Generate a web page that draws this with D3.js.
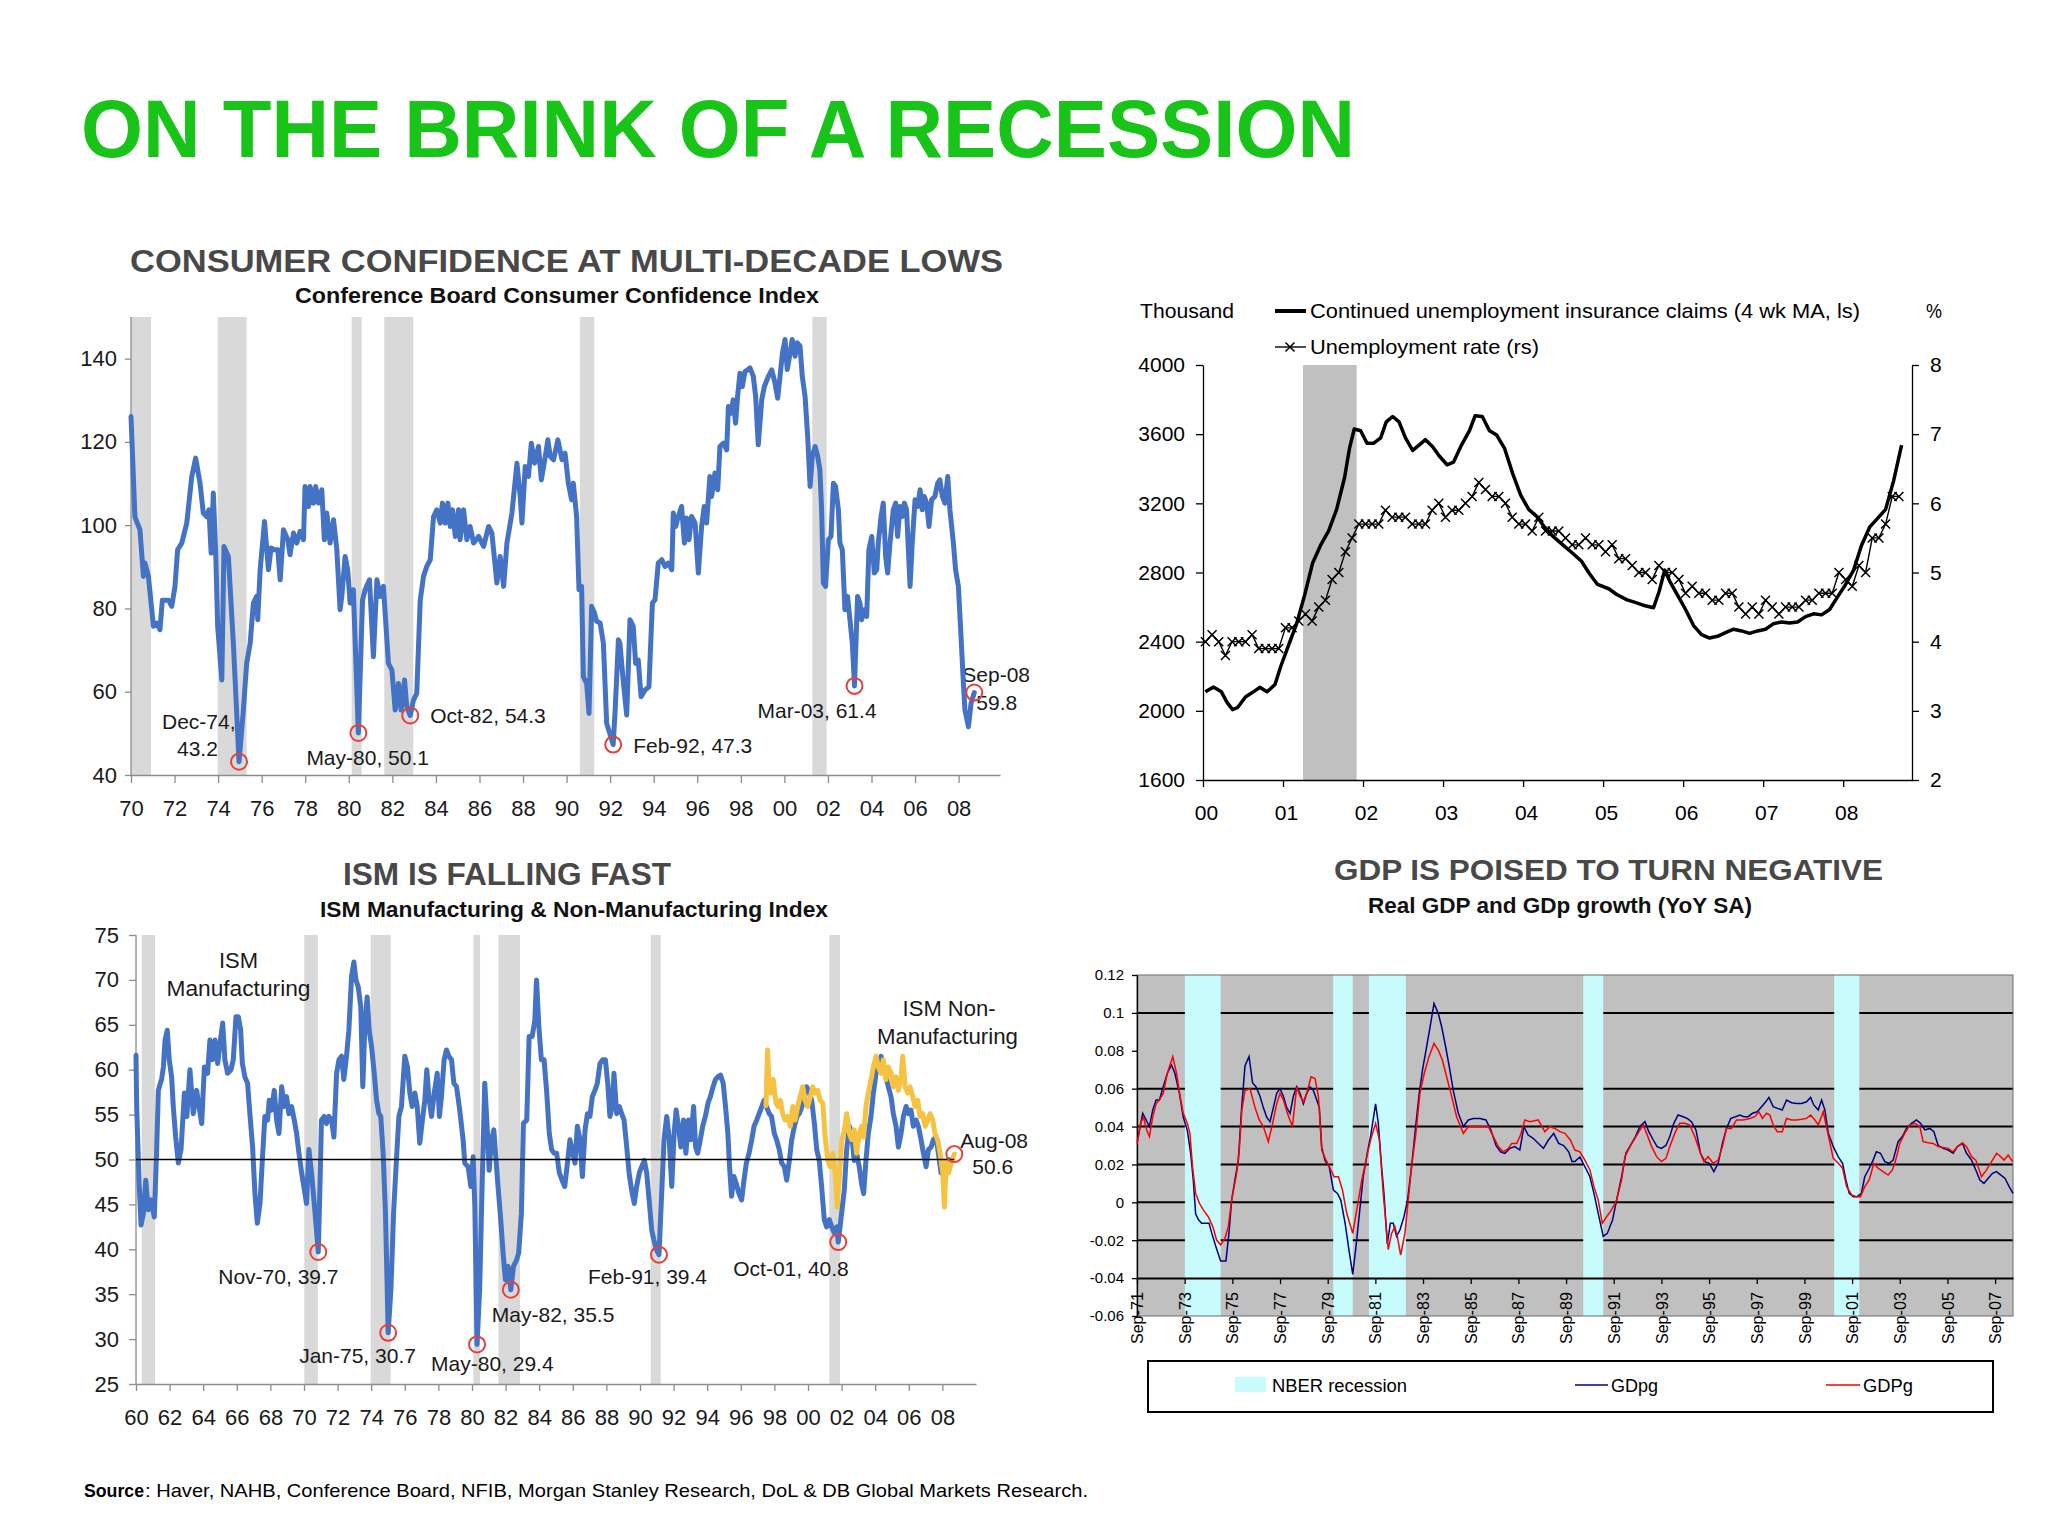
<!DOCTYPE html>
<html><head><meta charset="utf-8">
<script src="https://cdn.jsdelivr.net/npm/d3@7/dist/d3.min.js"></script>
<style>
body{margin:0;background:#fff}
svg{display:block}
text{font-family:"Liberation Sans",Arial,Helvetica,sans-serif}
</style>
</head><body>
<svg id="c" width="2048" height="1534"></svg>
<script>
// ---------------- DATA ----------------
// Consumer confidence (Conference Board)
const ccDates = [1970.00,1970.18,1970.41,1970.57,1970.64,1970.80,1971.03,1971.18,1971.33,1971.44,
1971.72,1971.87,1972.02,1972.14,1972.33,1972.56,1972.79,1972.97,1973.17,1973.32,
1973.48,1973.58,1973.68,1973.78,1973.89,1973.98,1974.17,1974.27,1974.47,1974.70,
1974.96,1975.16,1975.31,1975.47,1975.62,1975.77,1975.82,1975.93,1976.13,1976.31,
1976.43,1976.58,1976.74,1976.85,1977.00,1977.20,1977.30,1977.46,1977.61,1977.76,
1977.92,1977.99,1978.15,1978.22,1978.38,1978.48,1978.61,1978.76,1978.88,1978.99,
1979.14,1979.30,1979.45,1979.60,1979.68,1979.83,1979.95,1980.06,1980.21,1980.44,
1980.63,1980.75,1980.95,1981.13,1981.29,1981.44,1981.59,1981.82,1981.98,1982.13,
1982.28,1982.40,1982.56,1982.66,1982.82,1982.97,1983.12,1983.28,1983.43,1983.58,
1983.74,1983.89,1984.04,1984.20,1984.30,1984.43,1984.55,1984.66,1984.76,1984.89,
1985.04,1985.11,1985.27,1985.42,1985.57,1985.73,1985.96,1986.19,1986.42,1986.57,
1986.80,1986.95,1987.11,1987.26,1987.49,1987.72,1987.87,1987.95,1988.10,1988.25,
1988.38,1988.53,1988.71,1988.84,1989.02,1989.14,1989.25,1989.40,1989.60,1989.79,
1989.93,1990.08,1990.23,1990.31,1990.46,1990.57,1990.69,1990.77,1990.92,1991.03,
1991.15,1991.28,1991.38,1991.54,1991.69,1991.84,1992.14,1992.23,1992.38,1992.45,
1992.61,1992.76,1992.91,1993.06,1993.17,1993.29,1993.42,1993.60,1993.78,1993.94,
1994.06,1994.21,1994.37,1994.52,1994.67,1994.83,1994.90,1995.01,1995.13,1995.28,
1995.41,1995.51,1995.62,1995.74,1995.90,1996.05,1996.20,1996.32,1996.43,1996.58,
1996.66,1996.81,1996.94,1997.04,1997.20,1997.35,1997.43,1997.55,1997.65,1997.76,
1997.85,1997.96,1998.07,1998.19,1998.31,1998.42,1998.57,1998.68,1998.80,1998.96,
1999.08,1999.26,1999.42,1999.57,1999.69,1999.80,1999.91,2000.03,2000.13,2000.26,
2000.36,2000.49,2000.59,2000.72,2000.82,2000.95,2001.07,2001.18,2001.28,2001.41,
2001.53,2001.63,2001.71,2001.79,2001.89,2002.02,2002.14,2002.25,2002.35,2002.48,
2002.55,2002.66,2002.78,2002.90,2003.01,2003.12,2003.22,2003.36,2003.47,2003.55,
2003.67,2003.78,2003.88,2004.01,2004.13,2004.24,2004.31,2004.44,2004.54,2004.65,
2004.74,2004.85,2005.00,2005.11,2005.20,2005.31,2005.42,2005.51,2005.61,2005.77,
2005.87,2006.00,2006.12,2006.23,2006.33,2006.42,2006.53,2006.64,2006.76,2006.91,
2007.04,2007.14,2007.25,2007.37,2007.50,2007.60,2007.76,2007.86,2007.99,2008.11,
2008.22,2008.29,2008.45,2008.57,2008.72];
const ccValues = [126.1,102.0,98.9,87.7,90.9,87.7,75.7,76.5,74.9,82.0,
82.0,80.5,85.3,94.1,95.7,100.5,111.7,116.1,110.0,102.9,
102.0,103.7,93.3,107.7,93.3,75.7,62.8,94.9,92.5,71.6,
43.2,55.6,66.8,71.6,81.3,82.9,77.3,89.3,100.9,89.3,
94.5,94.1,94.1,86.9,98.9,96.5,92.9,98.1,95.7,98.5,
96.5,109.3,104.5,109.3,105.3,109.3,105.3,108.5,96.5,102.9,
95.7,101.3,94.1,79.7,82.9,92.5,89.3,81.3,84.5,50.1,
82.0,84.5,86.9,68.4,86.9,82.9,85.3,66.8,65.2,55.6,
62.0,55.6,62.8,56.4,54.3,58.0,59.6,82.0,87.7,90.1,
91.7,102.0,103.7,100.5,105.3,100.5,105.3,99.7,103.7,97.3,
103.7,96.5,103.7,96.5,99.7,95.7,97.3,94.9,99.7,98.1,
86.1,92.5,85.3,95.7,102.9,114.9,106.9,100.5,114.1,111.7,
119.7,114.9,118.9,110.9,116.5,120.5,116.5,115.7,120.5,115.7,
117.3,110.1,106.1,110.1,102.1,84.5,85.3,63.6,62.0,54.8,
80.5,78.9,76.9,76.5,71.6,52.4,47.3,55.6,72.5,71.6,
62.0,54.4,77.3,75.7,66.8,67.6,58.8,60.4,61.2,81.3,
82.1,90.9,91.7,90.1,90.9,89.3,102.9,99.7,102.1,104.5,
95.7,101.7,96.5,102.1,100.5,88.5,99.7,104.5,100.5,111.7,
106.9,112.5,108.5,118.9,119.7,118.1,128.5,126.9,130.1,124.5,
130.9,136.5,133.3,136.9,137.3,137.8,135.8,131.0,119.3,130.1,
133.3,135.7,137.3,134.1,130.5,135.7,141.3,144.6,137.4,141.3,
144.6,140.6,143.8,143.0,135.8,130.9,121.3,109.3,116.5,118.9,
116.5,113.3,103.7,86.1,85.3,96.5,97.3,110.1,109.3,103.7,
95.7,94.1,79.7,82.9,77.3,71.6,61.4,82.9,81.3,77.3,
79.7,78.1,94.1,97.3,88.5,89.3,95.7,102.1,105.3,92.5,
88.5,95.7,103.7,105.3,97.3,104.5,102.1,105.3,103.7,85.3,
95.7,106.1,104.5,108.5,103.7,106.9,105.3,99.7,106.1,106.9,
110.1,110.9,106.9,105.3,111.7,103.7,95.7,89.3,85.3,73.3,
62.0,55.6,51.6,57.2,59.8];
const ccRecStart = [1970.00,1973.98,1980.13,1981.63,1990.61,2001.28];
const ccRecEnd   = [1970.92,1975.31,1980.59,1982.96,1991.27,2001.94];
const ccYTicks = [40,60,80,100,120,140];
const ccXTicks = [1970,1972,1974,1976,1978,1980,1982,1984,1986,1988,1990,1992,1994,1996,1998,2000,2002,2004,2006,2008];
const ccXLabels = ["70","72","74","76","78","80","82","84","86","88","90","92","94","96","98","00","02","04","06","08"];
const ccAnnDates  = [1974.96,1980.44,1982.82,1992.14,2003.22,2008.72];
const ccAnnValues = [43.2,50.1,54.3,47.3,61.4,59.8];
const ccAnnLabels = [["Dec-74,","43.2"],["May-80, 50.1"],["Oct-82, 54.3"],["Feb-92, 47.3"],["Mar-03, 61.4"],["Sep-08","59.8"]];

// Continued claims (thousand, ls) and unemployment rate (%, rs)
const clDates = [2000.03,2000.13,2000.23,2000.30,2000.37,2000.43,2000.53,2000.63,2000.71,2000.80,
2000.90,2000.97,2001.07,2001.17,2001.27,2001.37,2001.47,2001.57,2001.67,2001.77,
2001.83,2001.89,2001.97,2002.05,2002.13,2002.22,2002.29,2002.37,2002.45,2002.53,
2002.62,2002.70,2002.78,2002.87,2002.95,2003.05,2003.13,2003.23,2003.33,2003.40,
2003.49,2003.58,2003.67,2003.77,2003.87,2003.97,2004.07,2004.17,2004.27,2004.37,
2004.50,2004.63,2004.73,2004.83,2004.93,2005.07,2005.17,2005.30,2005.40,2005.50,
2005.63,2005.70,2005.77,2005.83,2005.93,2006.03,2006.13,2006.23,2006.33,2006.43,
2006.53,2006.63,2006.73,2006.83,2006.93,2007.03,2007.13,2007.23,2007.33,2007.43,
2007.53,2007.63,2007.73,2007.83,2007.93,2008.03,2008.13,2008.23,2008.33,2008.43,
2008.53,2008.63,2008.73];
const clValues = [2110,2138,2110,2049,2007,2018,2080,2110,2136,2110,
2152,2255,2380,2504,2669,2855,2958,3041,3165,3351,
3516,3630,3620,3547,3547,3578,3671,3702,3671,3578,
3506,3537,3568,3527,3475,3423,3438,3537,3620,3706,
3702,3620,3595,3516,3372,3248,3165,3124,3062,3010,
2958,2907,2865,2793,2731,2706,2673,2642,2627,2611,
2596,2690,2814,2752,2669,2586,2493,2441,2421,2431,
2452,2472,2462,2448,2462,2472,2504,2514,2508,2514,
2545,2561,2555,2586,2659,2731,2814,2958,3062,3113,
3165,3330,3537];
const urMonths = d3.range(105).map(m => 2000 + m / 12);
const urValues = [4.0,4.1,4.0,3.8,4.0,4.0,4.0,4.1,3.9,3.9,3.9,3.9,
4.2,4.2,4.3,4.4,4.3,4.5,4.6,4.9,5.0,5.3,5.5,5.7,
5.7,5.7,5.7,5.9,5.8,5.8,5.8,5.7,5.7,5.7,5.9,6.0,
5.8,5.9,5.9,6.0,6.1,6.3,6.2,6.1,6.1,6.0,5.8,5.7,
5.7,5.6,5.8,5.6,5.6,5.6,5.5,5.4,5.4,5.5,5.4,5.4,
5.3,5.4,5.2,5.2,5.1,5.0,5.0,4.9,5.1,5.0,5.0,4.9,
4.7,4.8,4.7,4.7,4.6,4.6,4.7,4.7,4.5,4.4,4.5,4.4,
4.6,4.5,4.4,4.5,4.5,4.5,4.6,4.6,4.7,4.7,4.7,5.0,
4.9,4.8,5.1,5.0,5.5,5.5,5.7,6.1,6.1];
const urRecStart = [2001.25], urRecEnd = [2001.92];
const clTicks = [1600,2000,2400,2800,3200,3600,4000];
const clLabels = ["1600","2000","2400","2800","3200","3600","4000"];
const urTicks = [2,3,4,5,6,7,8];
const urLabels = ["2","3","4","5","6","7","8"];
const trXTicks = [2000,2001,2002,2003,2004,2005,2006,2007,2008];
const trXLabels = ["00","01","02","03","04","05","06","07","08"];

// ISM manufacturing and non-manufacturing
const ismMfgDates = [1960.00,1960.04,1960.18,1960.30,1960.44,1960.58,1960.73,1960.89,1961.09,1961.23,
1961.33,1961.53,1961.63,1961.73,1961.86,1961.98,1962.12,1962.22,1962.36,1962.52,
1962.68,1962.88,1963.03,1963.21,1963.41,1963.61,1963.75,1963.91,1964.07,1964.26,
1964.40,1964.54,1964.70,1964.86,1965.00,1965.16,1965.29,1965.45,1965.65,1965.79,
1965.95,1966.09,1966.23,1966.33,1966.48,1966.64,1966.78,1966.94,1967.08,1967.22,
1967.38,1967.52,1967.67,1967.83,1967.93,1968.07,1968.23,1968.37,1968.51,1968.67,
1968.82,1968.96,1969.10,1969.26,1969.42,1969.56,1969.70,1969.86,1969.99,1970.15,
1970.29,1970.45,1970.61,1970.85,1970.95,1971.04,1971.20,1971.34,1971.48,1971.64,
1971.78,1971.94,1972.08,1972.24,1972.37,1972.53,1972.67,1972.83,1972.97,1973.09,
1973.23,1973.38,1973.50,1973.62,1973.76,1973.88,1974.02,1974.18,1974.32,1974.46,
1974.57,1974.71,1974.85,1974.95,1975.01,1975.18,1975.33,1975.50,1975.65,1975.80,
1976.00,1976.16,1976.30,1976.44,1976.60,1976.74,1976.89,1977.05,1977.19,1977.31,
1977.43,1977.59,1977.75,1977.93,1978.06,1978.18,1978.34,1978.48,1978.62,1978.78,
1978.92,1979.08,1979.27,1979.47,1979.57,1979.77,1979.93,1980.07,1980.17,1980.30,
1980.46,1980.60,1980.76,1980.90,1981.02,1981.16,1981.30,1981.40,1981.55,1981.71,
1981.85,1981.99,1982.15,1982.31,1982.47,1982.65,1982.78,1982.94,1983.06,1983.26,
1983.40,1983.58,1983.74,1983.84,1983.98,1984.13,1984.29,1984.45,1984.60,1984.74,
1984.88,1985.04,1985.20,1985.36,1985.52,1985.68,1985.83,1985.99,1986.13,1986.27,
1986.43,1986.57,1986.73,1986.87,1987.02,1987.16,1987.32,1987.46,1987.62,1987.78,
1987.94,1988.08,1988.21,1988.35,1988.45,1988.61,1988.77,1988.91,1989.05,1989.21,
1989.35,1989.50,1989.66,1989.80,1989.96,1990.10,1990.26,1990.40,1990.56,1990.70,
1990.83,1990.99,1991.13,1991.29,1991.43,1991.59,1991.73,1991.89,1992.03,1992.15,
1992.29,1992.43,1992.59,1992.73,1992.89,1993.03,1993.19,1993.31,1993.43,1993.59,
1993.73,1993.89,1994.05,1994.19,1994.35,1994.49,1994.63,1994.79,1994.95,1995.09,
1995.23,1995.33,1995.45,1995.59,1995.73,1995.89,1996.05,1996.19,1996.33,1996.49,
1996.65,1996.79,1996.95,1997.09,1997.25,1997.39,1997.53,1997.69,1997.83,1997.99,
1998.13,1998.29,1998.43,1998.59,1998.73,1998.89,1999.03,1999.19,1999.35,1999.48,
1999.64,1999.78,1999.92,2000.08,2000.22,2000.38,2000.52,2000.67,2000.81,2000.97,
2001.11,2001.27,2001.41,2001.57,2001.71,2001.80,2002.00,2002.16,2002.30,2002.46,
2002.60,2002.75,2002.89,2003.05,2003.19,2003.31,2003.45,2003.59,2003.75,2003.89,
2004.05,2004.19,2004.35,2004.48,2004.64,2004.78,2004.94,2005.08,2005.24,2005.38,
2005.54,2005.68,2005.84,2005.98,2006.13,2006.27,2006.43,2006.57,2006.73,2006.87,
2007.03,2007.17,2007.33,2007.46,2007.62,2007.76,2007.92,2008.06,2008.22,2008.40];
const ismMfgValues = [61.6,55.9,47.7,42.7,44.0,47.7,44.4,45.5,43.6,51.1,
57.7,59.0,60.3,63.3,64.4,61.1,59.2,55.9,52.5,49.6,
51.1,57.4,54.8,60.0,55.1,57.7,55.9,54.0,60.3,59.6,
63.3,61.1,63.3,60.7,62.9,65.2,61.1,59.6,60.0,61.1,
65.9,65.9,64.4,60.7,59.2,58.5,55.1,51.4,46.2,42.9,
45.1,49.9,54.8,54.4,56.6,55.5,57.7,54.4,52.9,58.1,
55.9,57.0,55.1,55.9,54.4,52.9,50.7,48.5,47.0,45.1,
51.1,48.5,45.1,39.7,47.0,54.4,54.8,54.0,54.8,54.4,
52.5,59.6,61.1,61.5,58.9,61.5,64.4,70.4,72.0,70.0,
69.2,67.0,58.1,64.8,68.1,64.4,62.6,59.6,56.6,55.1,
54.8,50.7,44.0,35.8,30.7,35.8,44.0,49.9,54.8,55.9,
61.5,60.3,57.4,55.9,57.4,55.9,51.8,54.4,56.6,60.0,
57.0,54.8,57.4,59.6,54.8,57.0,61.1,62.2,61.5,61.1,
58.5,58.1,55.5,52.2,49.6,49.2,47.0,50.3,44.7,29.4,
35.8,47.0,58.5,53.7,48.8,52.2,53.3,50.7,47.0,43.3,
39.6,36.6,38.1,35.5,38.1,38.8,39.6,44.0,54.0,54.4,
63.7,63.7,65.5,70.0,64.8,61.1,61.1,57.4,52.9,51.1,
50.7,50.7,48.5,47.7,47.0,49.6,52.2,50.7,49.6,53.7,
52.2,48.1,53.3,55.1,54.8,57.0,57.7,58.5,60.7,61.1,
61.1,58.5,54.8,55.9,59.6,55.1,55.9,55.1,54.4,51.4,
48.5,46.6,45.1,47.0,48.5,49.2,49.9,48.5,45.1,42.1,
41.0,39.9,39.4,46.2,52.2,54.8,52.5,47.0,52.9,55.5,
53.7,51.4,54.4,50.7,54.4,52.2,55.9,51.4,50.7,52.2,
53.7,54.8,56.3,57.0,58.1,58.9,59.2,59.4,58.5,55.9,
52.9,49.2,45.9,48.1,47.3,46.2,45.5,47.7,49.6,50.7,
52.2,53.7,54.4,55.1,55.9,56.6,55.9,55.1,54.8,52.9,
52.2,51.1,49.6,49.2,47.7,49.9,52.2,53.7,54.8,55.1,
55.9,57.4,58.1,57.4,56.6,54.0,51.1,49.9,47.0,43.3,
42.5,43.3,42.5,41.8,42.5,40.8,44.0,46.6,51.1,53.7,
52.9,49.9,50.7,49.2,47.3,46.2,49.9,52.9,54.8,57.4,
59.6,60.7,61.5,60.7,59.2,58.1,57.0,55.1,53.7,51.4,
52.9,54.8,55.9,55.1,55.5,53.7,54.4,53.7,52.2,50.7,
49.2,51.1,51.4,52.2,52.5,50.7,48.5,49.6,49.2,50.0];
const ismNonDates = [1997.50,1997.59,1997.69,1997.79,1997.93,1998.09,1998.23,1998.35,1998.49,1998.63,
1998.79,1998.95,1999.09,1999.23,1999.39,1999.53,1999.69,1999.82,1999.98,2000.14,
2000.28,2000.42,2000.58,2000.72,2000.88,2001.02,2001.18,2001.32,2001.48,2001.62,
2001.74,2001.88,2002.01,2002.17,2002.30,2002.46,2002.60,2002.75,2002.89,2003.05,
2003.19,2003.31,2003.45,2003.59,2003.75,2003.89,2004.05,2004.19,2004.35,2004.48,
2004.64,2004.78,2004.94,2005.08,2005.24,2005.38,2005.54,2005.64,2005.78,2005.94,
2006.08,2006.23,2006.37,2006.53,2006.67,2006.83,2006.97,2007.13,2007.26,2007.42,
2007.56,2007.72,2007.86,2008.02,2008.12,2008.22,2008.36,2008.52,2008.71];
const ismNonValues = [56.0,62.2,58.1,57.4,58.9,56.3,55.9,56.6,55.1,54.4,
54.8,53.7,55.9,54.4,55.9,57.0,58.1,56.6,55.9,57.0,
58.1,57.4,57.7,56.6,56.3,52.5,49.9,49.2,50.7,48.5,
44.7,48.5,52.2,53.3,55.1,52.9,52.2,53.3,50.7,52.9,
53.7,52.5,55.9,57.4,58.9,60.3,61.5,60.3,59.6,61.1,
58.9,60.3,59.6,58.1,59.2,57.7,59.2,61.5,58.1,57.4,
58.1,57.0,55.9,56.6,54.8,55.1,53.7,54.4,55.1,54.4,
52.9,52.2,50.7,48.5,44.7,49.9,48.5,49.6,50.6];
const ismRecStart = [1960.34,1970.02,1973.97,1980.08,1981.57,1990.64,2001.27];
const ismRecEnd   = [1961.13,1970.82,1975.16,1980.48,1982.86,1991.23,2001.90];
const ismYTicks = [25,30,35,40,45,50,55,60,65,70,75];
const ismXTicks = d3.range(1960, 2009, 2);
const ismXLabels = ["60","62","64","66","68","70","72","74","76","78","80","82","84","86","88","90","92","94","96","98","00","02","04","06","08"];
const ismAnnDates  = [1970.85,1975.01,1980.30,1982.31,1991.13,2001.80,2008.71];
const ismAnnValues = [39.7,30.7,29.4,35.5,39.4,40.8,50.6];
const ismAnnLabels = [["Nov-70, 39.7"],["Jan-75, 30.7"],["May-80, 29.4"],["May-82, 35.5"],["Feb-91, 39.4"],["Oct-01, 40.8"],["Aug-08","50.6"]];

// Real GDP growth (GDPg) and GDp growth (GDpg), YoY
const gdpgDates = [1971.68,1971.80,1971.91,1972.05,1972.19,1972.33,1972.47,1972.61,1972.77,1972.94,
1973.12,1973.26,1973.45,1973.61,1973.78,1973.92,1974.03,1974.13,1974.24,1974.38,
1974.52,1974.69,1974.80,1974.97,1975.18,1975.40,1975.53,1975.64,1975.78,1975.92,
1976.06,1976.20,1976.37,1976.52,1976.66,1976.83,1976.97,1977.11,1977.25,1977.39,
1977.53,1977.67,1977.81,1977.95,1978.09,1978.23,1978.37,1978.51,1978.65,1978.79,
1978.93,1979.07,1979.21,1979.32,1979.42,1979.56,1979.73,1979.91,1980.08,1980.22,
1980.40,1980.56,1980.72,1980.86,1981.00,1981.16,1981.33,1981.47,1981.68,1981.79,
1981.93,1982.03,1982.17,1982.30,1982.42,1982.56,1982.70,1982.87,1983.02,1983.19,
1983.36,1983.51,1983.65,1983.82,1983.99,1984.13,1984.31,1984.45,1984.62,1984.77,
1984.94,1985.15,1985.36,1985.57,1985.78,1986.06,1986.31,1986.52,1986.73,1986.92,
1987.10,1987.31,1987.52,1987.73,1987.90,1988.08,1988.29,1988.51,1988.72,1988.93,
1989.15,1989.36,1989.57,1989.78,1989.92,1990.04,1990.25,1990.46,1990.67,1990.84,
1991.02,1991.23,1991.40,1991.62,1991.79,1992.00,1992.18,1992.37,1992.58,1992.77,
1992.98,1993.14,1993.33,1993.49,1993.67,1993.86,1994.02,1994.19,1994.37,1994.58,
1994.75,1994.93,1995.12,1995.31,1995.49,1995.68,1995.87,1996.05,1996.23,1996.40,
1996.58,1996.78,1996.96,1997.13,1997.31,1997.49,1997.69,1997.87,1998.05,1998.18,
1998.36,1998.54,1998.74,1998.92,1999.13,1999.34,1999.55,1999.76,1999.93,2000.06,
2000.25,2000.39,2000.53,2000.67,2000.88,2001.09,2001.27,2001.41,2001.55,2001.72,
2001.88,2002.06,2002.20,2002.39,2002.55,2002.69,2002.86,2003.04,2003.22,2003.39,
2003.60,2003.78,2003.95,2004.16,2004.37,2004.54,2004.72,2004.93,2005.10,2005.28,
2005.49,2005.70,2005.91,2006.09,2006.30,2006.47,2006.68,2006.86,2007.03,2007.20,
2007.38,2007.56,2007.73,2007.91,2008.08,2008.26,2008.42];
const gdpgValues = [0.032,0.040,0.047,0.0435,0.040,0.0487,0.054,0.054,0.061,0.068,
0.0725,0.068,0.0575,0.045,0.038,0.026,0.012,-0.006,-0.009,-0.011,
-0.011,-0.011,-0.016,-0.023,-0.031,-0.031,-0.016,0.001,0.012,0.022,
0.050,0.072,0.077,0.063,0.061,0.056,0.050,0.045,0.0426,0.050,
0.0575,0.060,0.056,0.050,0.047,0.056,0.061,0.0575,0.052,0.0575,
0.061,0.059,0.054,0.050,0.029,0.022,0.019,0.0065,0.0047,0.0012,
-0.011,-0.025,-0.038,-0.023,-0.006,0.0135,0.026,0.035,0.052,0.042,
0.019,0.0047,-0.022,-0.011,-0.011,-0.018,-0.0146,-0.0076,0.0012,0.019,
0.040,0.0575,0.070,0.082,0.0945,0.105,0.0997,0.0927,0.082,0.0716,
0.059,0.047,0.040,0.0435,0.0443,0.0443,0.0435,0.038,0.030,0.0267,
0.0259,0.0285,0.0294,0.0276,0.040,0.0355,0.0338,0.0311,0.0285,0.0329,
0.0364,0.0311,0.030,0.0267,0.0215,0.0215,0.024,0.0188,0.0135,0.0047,
-0.0058,-0.018,-0.0164,-0.0093,0.0012,0.0135,0.0259,0.030,0.0347,0.040,
0.0426,0.0373,0.0329,0.0294,0.0285,0.030,0.0347,0.0417,0.0461,0.0452,
0.0443,0.0426,0.0382,0.0259,0.0215,0.0206,0.0162,0.0206,0.0311,0.039,
0.0443,0.0452,0.0461,0.0452,0.0452,0.047,0.0478,0.0505,0.0531,0.0554,
0.0505,0.0496,0.0487,0.054,0.0526,0.0522,0.0522,0.0531,0.0554,0.0514,
0.0487,0.054,0.0487,0.0364,0.0294,0.024,0.0206,0.0118,0.0047,0.003,
0.003,0.0047,0.0135,0.018,0.0223,0.0267,0.0259,0.0215,0.0206,0.0223,
0.032,0.0347,0.039,0.0417,0.0435,0.0417,0.0382,0.039,0.0373,0.030,
0.0285,0.0276,0.0259,0.0294,0.0311,0.0259,0.0223,0.0171,0.0118,0.010,
0.0127,0.0153,0.0162,0.0144,0.0127,0.0083,0.0047];
const gdpDates = [1971.68,1971.82,1971.94,1972.08,1972.19,1972.33,1972.47,1972.61,1972.77,1972.94,
1973.17,1973.33,1973.48,1973.61,1973.78,1973.89,1974.00,1974.13,1974.29,1974.45,
1974.66,1974.85,1975.01,1975.18,1975.36,1975.50,1975.64,1975.85,1975.96,1976.07,
1976.20,1976.41,1976.62,1976.80,1976.97,1977.18,1977.36,1977.53,1977.67,1977.81,
1977.98,1978.19,1978.37,1978.51,1978.65,1978.79,1978.97,1979.14,1979.28,1979.42,
1979.60,1979.77,1979.94,1980.12,1980.29,1980.47,1980.72,1980.89,1981.10,1981.28,
1981.47,1981.68,1981.84,1982.00,1982.21,1982.35,1982.49,1982.59,1982.73,1982.91,
1983.05,1983.19,1983.37,1983.54,1983.72,1983.92,1984.13,1984.31,1984.48,1984.66,
1984.87,1985.08,1985.36,1985.57,1985.92,1986.41,1986.62,1986.83,1987.04,1987.25,
1987.39,1987.60,1987.76,1987.94,1988.15,1988.50,1988.78,1988.99,1989.20,1989.41,
1989.62,1989.85,1990.04,1990.25,1990.46,1990.67,1990.84,1991.02,1991.19,1991.37,
1991.58,1991.79,1992.00,1992.14,1992.35,1992.56,1992.77,1992.91,1993.05,1993.26,
1993.47,1993.67,1993.86,1994.02,1994.23,1994.44,1994.65,1994.86,1995.07,1995.31,
1995.45,1995.63,1995.84,1996.05,1996.23,1996.40,1996.61,1996.82,1997.10,1997.38,
1997.59,1997.76,1997.91,1998.08,1998.22,1998.36,1998.53,1998.74,1998.92,1999.13,
1999.34,1999.55,1999.76,1999.93,2000.11,2000.25,2000.46,2000.62,2000.88,2001.09,
2001.27,2001.44,2001.65,2001.86,2002.02,2002.20,2002.39,2002.58,2002.76,2002.97,
2003.18,2003.36,2003.50,2003.67,2003.88,2004.09,2004.30,2004.51,2004.65,2004.86,
2005.07,2005.28,2005.49,2005.70,2005.91,2006.09,2006.30,2006.47,2006.68,2006.86,
2007.10,2007.31,2007.52,2007.73,2007.90,2008.05,2008.22,2008.40];
const gdpValues = [0.031,0.0417,0.045,0.038,0.0347,0.045,0.052,0.054,0.0575,0.068,
0.0769,0.068,0.0558,0.047,0.0417,0.0364,0.0188,0.0047,-0.0005,-0.004,
-0.0076,-0.0128,-0.0199,-0.0225,-0.019,-0.0128,0.0012,0.0153,0.0276,0.0487,
0.059,0.060,0.050,0.0435,0.040,0.032,0.0417,0.052,0.0575,0.054,
0.047,0.040,0.061,0.056,0.0531,0.0575,0.0663,0.0654,0.056,0.0276,
0.0223,0.018,0.0135,0.0135,0.0065,-0.0058,-0.0164,-0.004,0.0118,0.0223,
0.0329,0.0417,0.0329,0.0047,-0.025,-0.0164,-0.0128,-0.018,-0.0278,-0.0164,
0.0012,0.0188,0.0364,0.0575,0.068,0.0769,0.0839,0.0804,0.0751,0.0663,
0.056,0.045,0.0364,0.040,0.040,0.040,0.0347,0.0294,0.0267,0.0285,
0.0311,0.0311,0.0355,0.0435,0.0426,0.0435,0.0373,0.040,0.039,0.0373,
0.0364,0.0329,0.0276,0.0267,0.0223,0.0171,0.0083,0.0012,-0.011,-0.0076,
-0.004,0.0012,0.0118,0.0241,0.0294,0.0338,0.0382,0.0408,0.0364,0.0294,
0.0241,0.0215,0.0232,0.0294,0.0364,0.0417,0.0417,0.0408,0.0347,0.0259,
0.0215,0.0241,0.0206,0.0223,0.0294,0.039,0.039,0.0435,0.0435,0.0443,
0.0452,0.0478,0.0443,0.047,0.0461,0.0408,0.0373,0.0373,0.0443,0.0435,
0.0435,0.0438,0.0443,0.0461,0.0435,0.0408,0.0478,0.0382,0.0232,0.0206,
0.018,0.0083,0.0039,0.003,0.003,0.0083,0.0118,0.0206,0.018,0.0162,
0.0144,0.0171,0.0223,0.0311,0.0364,0.0408,0.0417,0.040,0.032,0.0315,
0.0311,0.0294,0.029,0.0285,0.0267,0.0294,0.0315,0.0294,0.0241,0.0223,
0.0135,0.0171,0.0215,0.0259,0.0241,0.0223,0.025,0.0215];
const gdpRecStart = [1973.68,1979.90,1981.40,1990.39,2000.92];
const gdpRecEnd   = [1975.18,1980.72,1982.95,1991.23,2001.97];
const gdpYTicks = [-0.06,-0.04,-0.02,0,0.02,0.04,0.06,0.08,0.1,0.12];
const gdpYLabels = ["-0.06","-0.04","-0.02","0","0.02","0.04","0.06","0.08","0.1","0.12"];
const gdpGrid = [-0.02,0,0.02,0.04,0.06,0.1];
const gdpXTicks = d3.range(0, 19).map(k => 1971.67 + 2 * k);
const gdpXLabels = ["Sep-71","Sep-73","Sep-75","Sep-77","Sep-79","Sep-81","Sep-83","Sep-85","Sep-87","Sep-89","Sep-91","Sep-93","Sep-95","Sep-97","Sep-99","Sep-01","Sep-03","Sep-05","Sep-07"];

// ---------------- DRAWING ----------------
const svg = d3.select("#c");
const FONT = '"Liberation Sans",Arial,Helvetica,sans-serif';

function txt(parent, s, x, y, o = {}) {
  const t = parent.append("text").attr("x", x).attr("y", y).text(s)
    .attr("font-size", o.size || 20).attr("fill", o.fill || "#000")
    .attr("font-weight", o.weight || "normal").attr("text-anchor", o.anchor || "start");
  if (o.len) t.attr("textLength", o.len).attr("lengthAdjust", "spacingAndGlyphs");
  return t;
}
function styleAxis(g, color, size, textColor) {
  g.attr("font-family", FONT).attr("font-size", size);
  g.select(".domain").attr("stroke", color).attr("stroke-width", 1.3);
  g.selectAll(".tick line").attr("stroke", color).attr("stroke-width", 1.3);
  g.selectAll(".tick text").attr("fill", textColor || "#1a1a1a");
}
function pairs(xs, ys) { return xs.map((d, i) => [d, ys[i]]); }

// Titles
txt(svg, "ON THE BRINK OF A RECESSION", 81, 157, {size: 82, weight: "bold", fill: "#18c418", len: 1274});
txt(svg, "CONSUMER CONFIDENCE AT MULTI-DECADE LOWS", 130, 272, {size: 31, weight: "bold", fill: "#484848", len: 873});
txt(svg, "Conference Board Consumer Confidence Index", 295, 303, {size: 22, weight: "bold", fill: "#111", len: 524});
txt(svg, "ISM IS FALLING FAST", 343, 885, {size: 31, weight: "bold", fill: "#484848", len: 328});
txt(svg, "ISM Manufacturing & Non-Manufacturing Index", 320, 917, {size: 22, weight: "bold", fill: "#111", len: 508});
txt(svg, "GDP IS POISED TO TURN NEGATIVE", 1334, 880, {size: 30, weight: "bold", fill: "#484848", len: 549});
txt(svg, "Real GDP and GDp growth (YoY SA)", 1368, 913, {size: 22, weight: "bold", fill: "#111", len: 384});
txt(svg, "Source", 84, 1497, {size: 19, weight: "bold", fill: "#000", len: 60});
txt(svg, ": Haver, NAHB, Conference Board, NFIB, Morgan Stanley Research, DoL & DB Global Markets Research.", 145, 1497, {size: 19, fill: "#000", len: 943});

// ---------- Panel 1: Consumer confidence ----------
{
  const g = svg.append("g");
  const x = d3.scaleLinear().domain([1970, 2009.9]).range([131, 1000]);
  const y = d3.scaleLinear().domain([40, 150]).range([775, 317]);
  g.selectAll("rect.rec").data(ccRecStart).join("rect")
    .attr("x", (d) => x(d)).attr("width", (d, i) => x(ccRecEnd[i]) - x(d))
    .attr("y", y(150)).attr("height", y(40) - y(150)).attr("fill", "#d9d9d9");
  const ya = g.append("g").attr("transform", `translate(${x(1970)},0)`)
    .call(d3.axisLeft(y).tickValues(ccYTicks).tickSize(6).tickPadding(8).tickSizeOuter(0));
  styleAxis(ya, "#8c8c8c", 22);
  ya.select(".domain").attr("d", `M0,${y(150)}V${y(40)}`);
  const xa = g.append("g").attr("transform", `translate(0,${y(40)})`)
    .call(d3.axisBottom(x).tickValues(ccXTicks).tickFormat((d, i) => ccXLabels[i]).tickSize(8).tickPadding(17).tickSizeOuter(0));
  styleAxis(xa, "#8c8c8c", 22);
  const offs = [[[-77, -33], [-62, -6]], [[-52, 32]], [[20, 8]], [[20, 8]], [[-97, 32]], [[-12, -11], [2, 17]]];
  ccAnnLabels.forEach((lines, i) => lines.forEach((s, j) => {
    txt(g, s, x(ccAnnDates[i]) + offs[i][j][0], y(ccAnnValues[i]) + offs[i][j][1], {size: 21, fill: "#1a1a1a"});
  }));
  g.append("path").datum(pairs(ccDates, ccValues))
    .attr("d", d3.line().x(d => x(d[0])).y(d => y(d[1])))
    .attr("fill", "none").attr("stroke", "#4472c4").attr("stroke-width", 5)
    .attr("stroke-linejoin", "round").attr("stroke-linecap", "round");
  g.selectAll("circle.ann").data(ccAnnDates).join("circle")
    .attr("cx", d => x(d)).attr("cy", (d, i) => y(ccAnnValues[i])).attr("r", 8)
    .attr("fill", "none").attr("stroke", "#e5413a").attr("stroke-width", 2);
}

// ---------- Panel 2: Claims & unemployment ----------
{
  const g = svg.append("g");
  const x = d3.scaleLinear().domain([2000, 2008.86]).range([1203, 1912]);
  const yl = d3.scaleLinear().domain([1600, 4000]).range([780, 365]);
  const yr = d3.scaleLinear().domain([2, 8]).range([780, 365]);
  g.selectAll("rect.rec").data(urRecStart).join("rect")
    .attr("x", d => x(d)).attr("width", (d, i) => x(urRecEnd[i]) - x(d))
    .attr("y", yl(4000)).attr("height", yl(1600) - yl(4000)).attr("fill", "#c0c0c0");
  const la = g.append("g").attr("transform", `translate(${x(2000)},0)`)
    .call(d3.axisLeft(yl).tickValues(clTicks).tickFormat((d, i) => clLabels[i]).tickSize(7).tickPadding(11).tickSizeOuter(0));
  styleAxis(la, "#000", 21, "#000");
  const ra = g.append("g").attr("transform", `translate(${x(2008.86)},0)`)
    .call(d3.axisRight(yr).tickValues(urTicks).tickFormat((d, i) => urLabels[i]).tickSize(7).tickPadding(11).tickSizeOuter(0));
  styleAxis(ra, "#000", 21, "#000");
  const ba = g.append("g").attr("transform", `translate(0,${yl(1600)})`)
    .call(d3.axisBottom(x).tickValues(trXTicks).tickFormat((d, i) => trXLabels[i]).tickSize(7).tickPadding(18).tickSizeOuter(0));
  styleAxis(ba, "#000", 21, "#000");
  ba.selectAll(".tick text").attr("dx", 3);
  g.append("path").datum(pairs(clDates, clValues))
    .attr("d", d3.line().x(d => x(d[0])).y(d => yl(d[1])))
    .attr("fill", "none").attr("stroke", "#000").attr("stroke-width", 3.5).attr("stroke-linejoin", "round");
  const ur = pairs(urMonths.map(m => m + 0.03), urValues);
  g.append("path").datum(ur)
    .attr("d", d3.line().x(d => x(d[0])).y(d => yr(d[1])))
    .attr("fill", "none").attr("stroke", "#000").attr("stroke-width", 1.4);
  const cross = "M-4.5,-4.5L4.5,4.5M-4.5,4.5L4.5,-4.5";
  g.selectAll("path.mk").data(ur).join("path")
    .attr("transform", d => `translate(${x(d[0])},${yr(d[1])})`)
    .attr("d", cross).attr("stroke", "#000").attr("stroke-width", 1.5).attr("fill", "none");
  txt(g, "Thousand", 1140, 318, {size: 21, len: 94});
  txt(g, "%", 1926, 318, {size: 21, len: 16});
  g.append("line").attr("x1", 1275).attr("x2", 1306).attr("y1", 311).attr("y2", 311).attr("stroke", "#000").attr("stroke-width", 4);
  txt(g, "Continued unemployment insurance claims (4 wk MA, ls)", 1310, 318, {size: 21, len: 550});
  g.append("line").attr("x1", 1275).attr("x2", 1306).attr("y1", 347).attr("y2", 347).attr("stroke", "#000").attr("stroke-width", 1.4);
  g.append("path").attr("transform", "translate(1290,347)").attr("d", cross).attr("stroke", "#000").attr("stroke-width", 1.5);
  txt(g, "Unemployment rate (rs)", 1310, 354, {size: 21, len: 229});
}

// ---------- Panel 3: ISM ----------
{
  const g = svg.append("g");
  const x = d3.scaleLinear().domain([1960, 2010]).range([136, 976]);
  const y = d3.scaleLinear().domain([25, 75]).range([1384, 935]);
  g.selectAll("rect.rec").data(ismRecStart).join("rect")
    .attr("x", d => x(d)).attr("width", (d, i) => x(ismRecEnd[i]) - x(d))
    .attr("y", y(75)).attr("height", y(25) - y(75)).attr("fill", "#d9d9d9");
  const ya = g.append("g").attr("transform", `translate(${x(1960)},0)`)
    .call(d3.axisLeft(y).tickValues(ismYTicks).tickSize(7).tickPadding(10).tickSizeOuter(0));
  styleAxis(ya, "#8c8c8c", 22);
  ya.select(".domain").attr("d", `M0,${y(75)}V${y(25)}`);
  const xa = g.append("g").attr("transform", `translate(0,${y(25)})`)
    .call(d3.axisBottom(x).tickValues(ismXTicks).tickFormat((d, i) => ismXLabels[i]).tickSize(7).tickPadding(18).tickSizeOuter(0));
  styleAxis(xa, "#8c8c8c", 22);
  txt(g, "ISM", x(1966.1), y(71.3), {size: 22, anchor: "middle", fill: "#1a1a1a"});
  txt(g, "Manufacturing", x(1966.1), y(68.2), {size: 22, anchor: "middle", fill: "#1a1a1a", len: 144});
  txt(g, "ISM Non-", x(2008.4), y(66.0), {size: 22, anchor: "middle", fill: "#1a1a1a", len: 93});
  txt(g, "Manufacturing", x(2008.3), y(62.9), {size: 22, anchor: "middle", fill: "#1a1a1a", len: 141});
  const offs = [[[-100, 32]], [[-89, 30]], [[-46, 27]], [[-19, 32]], [[-71, 29]], [[-105, 34]], [[6, -6], [18, 20]]];
  ismAnnLabels.forEach((lines, i) => lines.forEach((s, j) => {
    txt(g, s, x(ismAnnDates[i]) + offs[i][j][0], y(ismAnnValues[i]) + offs[i][j][1], {size: 21, fill: "#1a1a1a"});
  }));
  const line = d3.line().x(d => x(d[0])).y(d => y(d[1]));
  g.append("path").datum(pairs(ismMfgDates, ismMfgValues)).attr("d", line)
    .attr("fill", "none").attr("stroke", "#4472c4").attr("stroke-width", 5)
    .attr("stroke-linejoin", "round").attr("stroke-linecap", "round");
  g.append("path").datum(pairs(ismNonDates, ismNonValues)).attr("d", line)
    .attr("fill", "none").attr("stroke", "#f5c242").attr("stroke-width", 5)
    .attr("stroke-linejoin", "round").attr("stroke-linecap", "round");
  g.append("line").attr("x1", x(1960)).attr("x2", x(2008.7)).attr("y1", y(50)).attr("y2", y(50))
    .attr("stroke", "#000").attr("stroke-width", 1.6);
  g.selectAll("circle.ann").data(ismAnnDates).join("circle")
    .attr("cx", d => x(d)).attr("cy", (d, i) => y(ismAnnValues[i])).attr("r", 8)
    .attr("fill", "none").attr("stroke", "#e5413a").attr("stroke-width", 2);
}

// ---------- Panel 4: GDP ----------
{
  const g = svg.append("g");
  const x = d3.scaleLinear().domain([1971.67, 2008.42]).range([1137, 2013]);
  const y = d3.scaleLinear().domain([-0.06, 0.12]).range([1316, 975]);
  g.append("rect").attr("x", x(1971.67)).attr("y", y(0.12)).attr("width", x(2008.42) - x(1971.67))
    .attr("height", y(-0.06) - y(0.12)).attr("fill", "#c0c0c0");
  g.selectAll("line.grid").data(gdpGrid).join("line")
    .attr("x1", x(1971.67)).attr("x2", x(2008.42)).attr("y1", d => y(d)).attr("y2", d => y(d))
    .attr("stroke", "#000").attr("stroke-width", 2);
  g.selectAll("rect.rec").data(gdpRecStart).join("rect")
    .attr("x", d => x(d)).attr("width", (d, i) => x(gdpRecEnd[i]) - x(d))
    .attr("y", y(0.12)).attr("height", y(-0.06) - y(0.12)).attr("fill", "#c8fbfb");
  g.append("rect").attr("x", x(1971.67)).attr("y", y(0.12)).attr("width", x(2008.42) - x(1971.67))
    .attr("height", y(-0.06) - y(0.12)).attr("fill", "none").attr("stroke", "#6a6a6a").attr("stroke-width", 1);
  const ya = g.append("g").attr("transform", `translate(${x(1971.67)},0)`)
    .call(d3.axisLeft(y).tickValues(gdpYTicks).tickFormat((d, i) => gdpYLabels[i]).tickSize(5).tickPadding(8).tickSizeOuter(0));
  styleAxis(ya, "#000", 15, "#000");
  const xa = g.append("g").attr("transform", `translate(0,${y(-0.04)})`)
    .call(d3.axisBottom(x).tickValues(gdpXTicks).tickFormat((d, i) => gdpXLabels[i]).tickSize(6).tickSizeOuter(0));
  styleAxis(xa, "#000", 16, "#000");
  xa.select(".domain").attr("stroke-width", 2);
  xa.selectAll(".tick text").attr("transform", "translate(0,14) rotate(-90)")
    .attr("y", 0).attr("dy", "0.35em").attr("text-anchor", "end")
    .attr("textLength", 52).attr("lengthAdjust", "spacingAndGlyphs");
  const line = d3.line().x(d => x(d[0])).y(d => y(d[1]));
  g.append("path").datum(pairs(gdpgDates, gdpgValues)).attr("d", line)
    .attr("fill", "none").attr("stroke", "#000080").attr("stroke-width", 1.5);
  g.append("path").datum(pairs(gdpDates, gdpValues)).attr("d", line)
    .attr("fill", "none").attr("stroke", "#ff0000").attr("stroke-width", 1.5);
  g.append("rect").attr("x", 1148).attr("y", 1361).attr("width", 845).attr("height", 51)
    .attr("fill", "#fff").attr("stroke", "#000").attr("stroke-width", 2);
  g.append("rect").attr("x", 1235).attr("y", 1377).attr("width", 31).attr("height", 15).attr("fill", "#c8fbfb");
  txt(g, "NBER recession", 1272, 1392, {size: 18, len: 135});
  g.append("line").attr("x1", 1575).attr("x2", 1608).attr("y1", 1385).attr("y2", 1385).attr("stroke", "#000080").attr("stroke-width", 1.5);
  txt(g, "GDpg", 1611, 1392, {size: 18, len: 47});
  g.append("line").attr("x1", 1826).attr("x2", 1860).attr("y1", 1385).attr("y2", 1385).attr("stroke", "#ff0000").attr("stroke-width", 1.5);
  txt(g, "GDPg", 1863, 1392, {size: 18, len: 50});
}
</script>
</body></html>
